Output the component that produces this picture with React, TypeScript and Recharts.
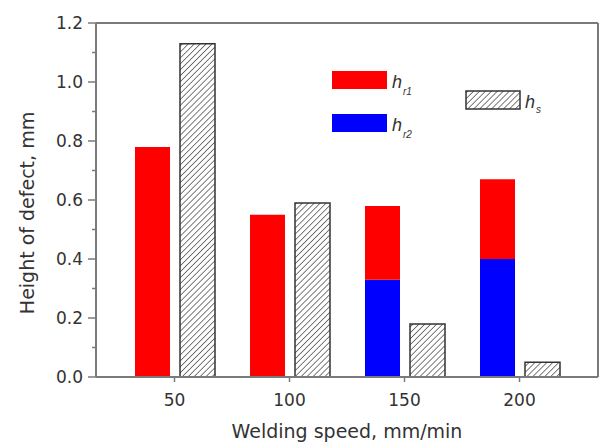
import { BarChart, Bar, XAxis, YAxis } from 'recharts';

const speeds = ['50', '100', '150', '200'];
const hr1 = [0.78, 0.55, 0.25, 0.27];
const hr2 = [0, 0, 0.33, 0.4];
const hs = [1.13, 0.59, 0.18, 0.05];
const yTicks = [0, 0.1, 0.2, 0.3, 0.4, 0.5, 0.6, 0.7, 0.8, 0.9, 1.0, 1.1, 1.2];

const data = speeds.map((s, i) => ({ speed: s, hr1: hr1[i], hr2: hr2[i], hs: hs[i] }));

const FONT = '"DejaVu Sans", Arial, sans-serif';
const AXIS = '#7a7a7a';
const TEXT = '#333';

function YTick({ x, y, payload }: any) {
  const v = payload.value as number;
  const major = Math.round(v * 10) % 2 === 0;
  const ax = x + 13;
  return (
    <g>
      <line x1={major ? ax - 8 : ax - 4} x2={ax} y1={y} y2={y} stroke={AXIS} strokeWidth={1.5} />
      {major && (
        <text x={x} y={y} dy="0.35em" textAnchor="end" fill={TEXT} fontSize={17} fontFamily={FONT}>
          {v.toFixed(1)}
        </text>
      )}
    </g>
  );
}

function Legend() {
  return (
    <g fontFamily='"Liberation Sans", Arial, sans-serif' fill={TEXT}>
      <rect x={332} y={71} width={55} height={18} fill="#ff0000" />
      <text x={392} y={88} fontSize={18} fontStyle="italic">h</text>
      <text x={403} y={95} fontSize={10} fontStyle="italic">r1</text>
      <rect x={332} y={114} width={55} height={18} fill="#0000ff" />
      <text x={392} y={131} fontSize={18} fontStyle="italic">h</text>
      <text x={403} y={138} fontSize={10} fontStyle="italic">r2</text>
      <rect x={466} y={91} width={54} height={18} fill="url(#hatch)" stroke="#333" strokeWidth={1.5} />
      <text x={525} y={108} fontSize={18} fontStyle="italic">h</text>
      <text x={536} y={113} fontSize={10} fontStyle="italic">s</text>
    </g>
  );
}

export default function App() {
  return (
    <div style={{ position: 'absolute', left: 0, top: 0, width: 601, height: 444, background: '#fff' }}>
      <BarChart
        width={601}
        height={444}
        data={data}
        margin={{ top: 22, right: 2, bottom: 0, left: 0 }}
        barSize={35}
        barGap={10}
      >
        <defs>
          <pattern id="hatch" patternUnits="userSpaceOnUse" width={4.2} height={4.2} patternTransform="rotate(45)">
            <rect width={4.2} height={4.2} fill="#fff" />
            <line x1={0} y1={0} x2={0} y2={4.2} stroke="#444" strokeWidth={1.4} />
          </pattern>
        </defs>
        <XAxis
          dataKey="speed"
          height={67}
          padding={{ left: 21, right: 21 }}
          axisLine={{ stroke: AXIS, strokeWidth: 2 }}
          tickLine={{ stroke: AXIS, strokeWidth: 1.5 }}
          tickSize={5}
          tickMargin={12}
          tick={{ fill: TEXT, fontSize: 17, fontFamily: FONT }}
          label={{
            content: ({ viewBox }: any) => (
              <text
                x={viewBox.x + viewBox.width / 2}
                y={viewBox.y + 61}
                textAnchor="middle"
                fill={TEXT}
                fontSize={19}
                fontFamily={FONT}
              >
                Welding speed, mm/min
              </text>
            ),
          }}
        />
        <XAxis
          xAxisId="top"
          dataKey="speed"
          orientation="top"
          height={1}
          padding={{ left: 21, right: 21 }}
          tick={false}
          tickLine={false}
          axisLine={{ stroke: AXIS, strokeWidth: 2 }}
        />
        <YAxis
          width={96}
          domain={[0, 1.2]}
          ticks={yTicks}
          interval={0}
          tickLine={false}
          tickSize={8}
          tickMargin={5}
          tick={<YTick />}
          axisLine={{ stroke: AXIS, strokeWidth: 2 }}
          label={{
            content: ({ viewBox }: any) => {
              const cx = 27;
              const cy = viewBox.y + viewBox.height / 2 + 13;
              return (
                <text
                  x={cx}
                  y={cy}
                  transform={`rotate(-90 ${cx} ${cy})`}
                  textAnchor="middle"
                  dominantBaseline="central"
                  fill={TEXT}
                  fontSize={19}
                  fontFamily={FONT}
                >
                  Height of defect, mm
                </text>
              );
            },
          }}
        />
        <YAxis
          yAxisId="right"
          orientation="right"
          width={1}
          domain={[0, 1.2]}
          tick={false}
          tickLine={false}
          axisLine={{ stroke: AXIS, strokeWidth: 2 }}
        />
        <Bar dataKey="hr2" stackId="r" fill="#0000ff" isAnimationActive={false} />
        <Bar dataKey="hr1" stackId="r" fill="#ff0000" isAnimationActive={false} />
        <Bar dataKey="hs" fill="url(#hatch)" stroke="#333" strokeWidth={1.5} isAnimationActive={false} />
        <Legend />
      </BarChart>
    </div>
  );
}
